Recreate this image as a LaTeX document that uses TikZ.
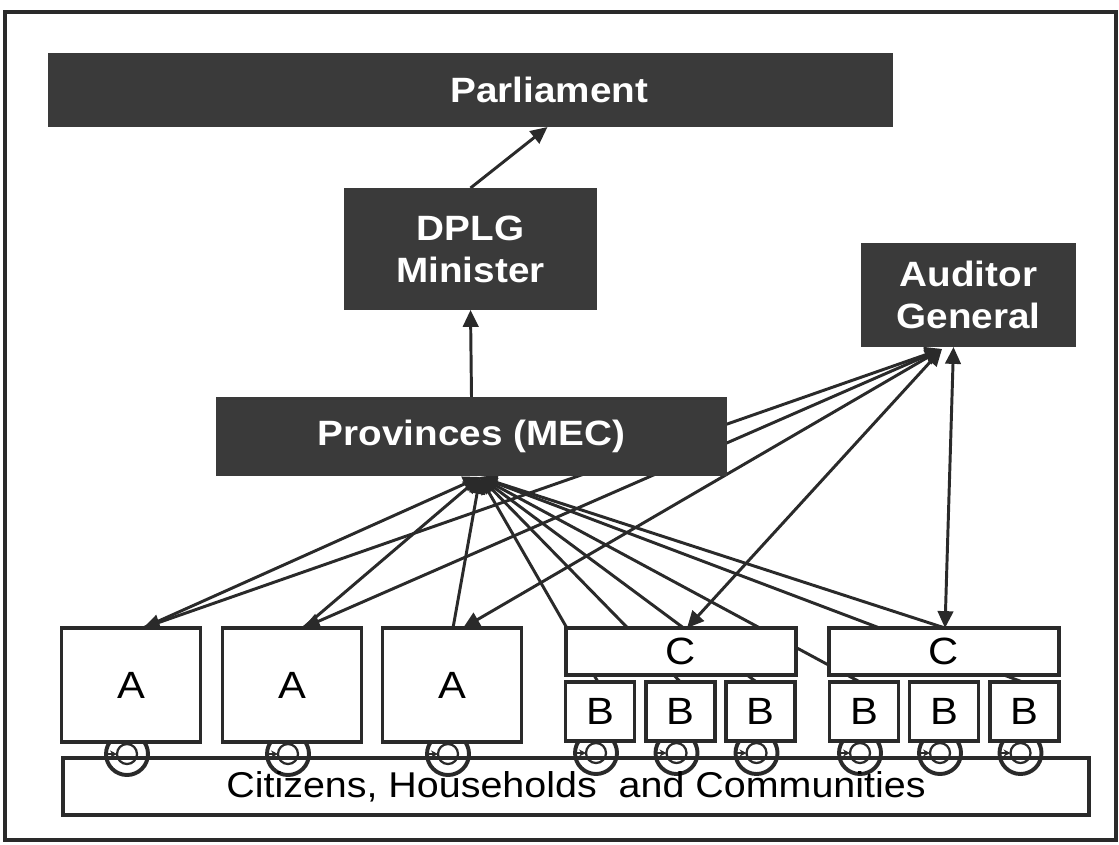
\documentclass[tikz,border=0pt]{standalone}
\usepackage{fontspec}
\setmainfont{Liberation Sans}[FakeStretch=1.1]
\usepackage{tikz}
\usetikzlibrary{arrows.meta,calc,backgrounds}

\newlength{\px}
\setlength{\px}{0.025cm}
\definecolor{boxgray}{RGB}{58,58,58}
\definecolor{linegray}{RGB}{42,42,42}

\tikzset{
  darkbox/.style={fill=boxgray, inner sep=0pt, outer sep=0pt, text=white,
    font=\bfseries\fontsize{25}{30}\selectfont, align=center},
  whitebox/.style={fill=white, draw=linegray, line width=2.3pt, inner sep=0pt,
    outer sep=0pt, font=\fontsize{27}{30}\selectfont},
  link/.style={draw=linegray, line width=2.1pt},
  ringline/.style={draw=linegray, line width=2.8pt}
}

\begin{document}
\begin{tikzpicture}[x=0.025cm, y=-0.025cm, >={Triangle[length=12pt, width=11pt]}]
            \useasboundingbox (0,0) rectangle (1119,844);
            % Frame
            \draw[linegray, line width=3pt] (5,12) rectangle (1116,840);

            % Dark boxes
            \node[darkbox, minimum width=845\px, minimum height=74\px,
              label={[text=white, font=\bfseries\fontsize{25}{30}\selectfont, xshift=79\px]center:Parliament}] (parl) at (470.5,90) {};
            \node[darkbox, minimum width=253\px, minimum height=122\px] (dplg) at (470.5,249) {DPLG\\Minister};
            \node[darkbox, minimum width=215\px, minimum height=104\px] (ag) at (968.5,295) {Auditor\\General};
            \node[darkbox, minimum width=511\px, minimum height=79\px] (prov) at (471.5,436.5) {Provinces (MEC)};

            % Citizens bar
            \node[whitebox, fill=none, minimum width=1026\px, minimum height=57\px, font=\fontsize{25.5}{30}\selectfont] (cit) at (576,786.5) {Citizens, Households~ and Communities};

            % A, C and B boxes
            \foreach \nd/\x in {a1/131, a2/292, a3/452}
              \node[whitebox, minimum width=139\px, minimum height=114\px] (\nd) at (\x,685) {A};
            \foreach \nd/\x in {c1/681, c2/944}
              \node[whitebox, minimum width=230\px, minimum height=47\px] (\nd) at (\x,651.5) {C};
            \foreach \nd/\x in {b1/600, b2/680.5, b3/760.5, b4/864, b5/944, b6/1024.5}
              \node[whitebox, minimum width=69\px, minimum height=59\px] (\nd) at (\x,711.5) {B};

            \begin{pgfonlayer}{background}
            % Loops under the boxes
            \foreach \nd in {a1,a2,a3,b1,b2,b3,b4,b5,b6} {
              \draw[ringline] ($(\nd.south)+(-4,12)$) circle (21\px);
              \draw[linegray, line width=1.6pt] ($(\nd.south)+(-4,12)$) circle (10\px);
              \draw[linegray, line width=1.2pt, -{Stealth[length=5pt, width=5pt]}] ($(\nd.south)+(-25,12)$) -- ++(11,0);
            }

            % Lines up the hierarchy
            \draw[link, ->] (prov.north) -- (dplg.south);
            \draw[link, ->] (dplg.north) -- ($(parl.south)+(77,0)$);

            % Lines from the provinces
            \coordinate (hub) at ($(prov.south)+(8.5,1)$);
            \draw[link, <-] (hub) -- ($(a1.north)+(12,0)$);
            \draw[link, <-] (hub) -- ($(a2.north)+(11,0)$);
            \draw[link, <-] (hub) -- ($(a3.north)+(1,0)$);
            \draw[link, <-] (hub) -- ($(b1.north)+(-2,0)$);
            \draw[link, <-] (hub) -- (b2.north);
            \draw[link, <-] (hub) -- ($(b3.north)+(-4,0)$);
            \draw[link, <-] (hub) -- ($(b4.north)+(-4,0)$);
            \draw[link, <-] (hub) -- ($(b6.north)+(-2,0)$);
            \draw[link, <-] (hub) -- ($(c2.north)+(1,0)$);

            % Lines from the Auditor General
            \coordinate (aghub) at ($(ag.south)+(-26.5,2)$);
            \draw[link, <->] (aghub) -- ($(a1.north)+(12,0)$);
            \draw[link, <->] (aghub) -- ($(a2.north)+(11,0)$);
            \draw[link, <->] (aghub) -- ($(a3.north)+(11,0)$);
            \draw[link, <->] (aghub) -- ($(c1.north)+(6,0)$);
            \draw[link, <->] ($(ag.south)+(-15,0)$) -- ($(c2.north)+(1,0)$);
            \end{pgfonlayer}

        \end{tikzpicture}
\end{document}
